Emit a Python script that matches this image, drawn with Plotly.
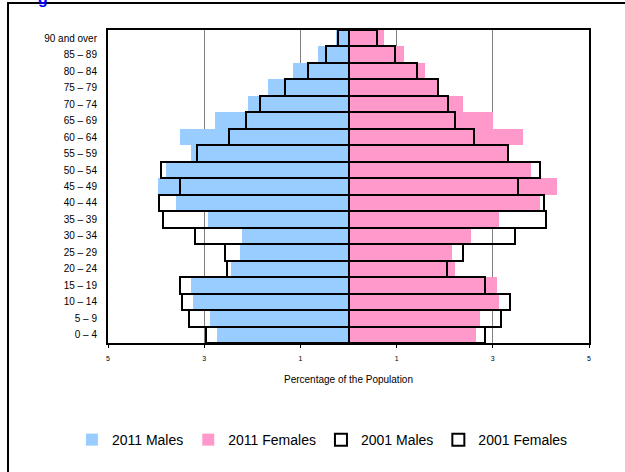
import plotly.graph_objects as go

# age bands, bottom to top
age_groups = ["0 – 4", "5 – 9", "10 – 14", "15 – 19", "20 – 24", "25 – 29",
              "30 – 34", "35 – 39", "40 – 44", "45 – 49", "50 – 54", "55 – 59",
              "60 – 64", "65 – 69", "70 – 74", "75 – 79", "80 – 84", "85 – 89",
              "90 and over"]

# percentage of the population
males_2011 = [2.73, 2.88, 3.23, 3.27, 2.44, 2.26, 2.22, 2.93, 3.58, 3.97,
              3.79, 3.27, 3.50, 2.77, 2.09, 1.68, 1.16, 0.63, 0.27]
females_2011 = [2.65, 2.73, 3.13, 3.09, 2.21, 2.15, 2.54, 3.12, 3.98, 4.33,
                3.79, 3.30, 3.63, 3.00, 2.38, 1.89, 1.59, 1.15, 0.74]
males_2001 = [2.96, 3.31, 3.47, 3.50, 2.53, 2.57, 3.19, 3.86, 3.94, 3.51,
              3.90, 3.16, 2.49, 2.14, 1.83, 1.32, 0.85, 0.47, 0.21]
females_2001 = [2.84, 3.16, 3.36, 2.84, 2.05, 2.37, 3.47, 4.10, 4.07, 3.52,
                3.99, 3.32, 2.61, 2.22, 2.06, 1.87, 1.43, 0.96, 0.60]

x_tickvals = [-5, -3, -1, 1, 3, 5]
x_ticktext = ["5", "3", "1", "1", "3", "5"]

font_family = "Liberation Sans, Arial, sans-serif"

fig = go.Figure()

# 2011 filled bars go behind
fig.add_trace(go.Bar(y=age_groups, x=[-v for v in males_2011], orientation="h",
                     name="2011 Males", marker=dict(color="#99CCFF", line=dict(width=0)),
                     customdata=males_2011, hovertemplate="%{y}: %{customdata}%<extra>2011 Males</extra>"))
fig.add_trace(go.Bar(y=age_groups, x=females_2011, orientation="h",
                     name="2011 Females", marker=dict(color="#FF99CC", line=dict(width=0)),
                     hovertemplate="%{y}: %{x}%<extra>2011 Females</extra>"))

# 2001 as outlines on top
fig.add_trace(go.Bar(y=age_groups, x=[-v for v in males_2001], orientation="h",
                     name="2001 Males",
                     marker=dict(color="rgba(0,0,0,0)", line=dict(color="black", width=2)),
                     customdata=males_2001, hovertemplate="%{y}: %{customdata}%<extra>2001 Males</extra>"))
fig.add_trace(go.Bar(y=age_groups, x=females_2001, orientation="h",
                     name="2001 Females",
                     marker=dict(color="rgba(0,0,0,0)", line=dict(color="black", width=2)),
                     hovertemplate="%{y}: %{x}%<extra>2001 Females</extra>"))

fig.update_layout(
    width=625, height=472,
    margin=dict(l=108, r=36, t=30, b=129),
    paper_bgcolor="white", plot_bgcolor="white",
    barmode="overlay", bargap=0,
    font=dict(family=font_family, color="black"),
    showlegend=True,
    legend=dict(orientation="h", x=-0.075, xanchor="left", y=-0.31, yanchor="middle",
                font=dict(size=14, color="black"), traceorder="normal"),
)

fig.update_xaxes(
    range=[-5, 5], tickvals=x_tickvals, ticktext=x_ticktext,
    tickfont=dict(size=7), ticks="outside", ticklen=3, tickcolor="black",
    ticklabelstandoff=5,
    showgrid=True, gridcolor="#808080", gridwidth=1,
    zeroline=False, showline=True, linecolor="black", linewidth=2, mirror=True,
    title=dict(text="Percentage of the Population", font=dict(size=10), standoff=15),
)
fig.update_yaxes(
    categoryorder="array", categoryarray=age_groups,
    tickfont=dict(size=10), ticks="", ticklabelstandoff=7,
    showgrid=False, zeroline=False,
    showline=True, linecolor="black", linewidth=2, mirror=True,
)

# outer chart frame (only top and left edges fall inside the picture)
fig.add_shape(type="rect", xref="paper", yref="paper",
              x0=-0.2079, x1=1.3, y0=-0.6, y1=1.0863,
              line=dict(color="black", width=2), fillcolor="rgba(0,0,0,0)", layer="above")

# the tail of a clipped blue title letter at the very top
fig.add_annotation(text="<b>g</b>", xref="paper", yref="paper",
                   x=(43 - 108) / 481, y=(343 - 9) / 313, xanchor="center", yanchor="bottom",
                   showarrow=False, font=dict(size=16, color="#0000FF"))

# no page margin so the chart sits at the window's corner
fig.write_html("out.html", config={"displayModeBar": False},
               post_script="document.body.style.margin='0';")
